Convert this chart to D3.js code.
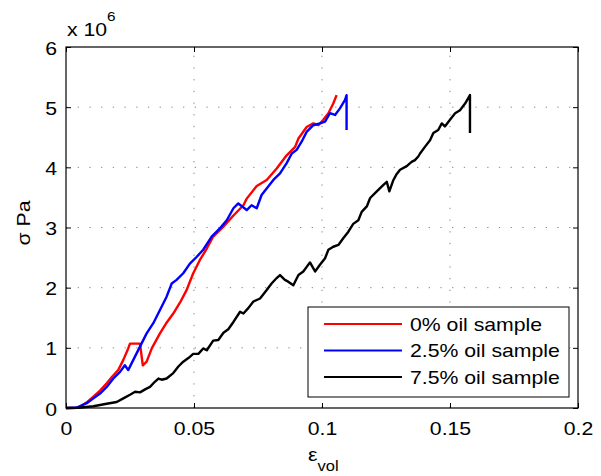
<!DOCTYPE html>
<html><head><meta charset="utf-8">
<script src="https://cdn.jsdelivr.net/npm/d3@7"></script>
<style>body{margin:0;background:#fff}svg{display:block}text{font-family:"Liberation Sans",Arial,Helvetica,sans-serif}</style>
</head><body>
<svg id="c" width="601" height="476"></svg>
<script>
const xTicks = [0, 0.05, 0.1, 0.15, 0.2];
const xTickLabels = ["0", "0.05", "0.1", "0.15", "0.2"];
const yTicks = [0, 1, 2, 3, 4, 5, 6];
const yTickLabels = ["0", "1", "2", "3", "4", "5", "6"];
const seriesNames = ["0% oil sample", "2.5% oil sample", "7.5% oil sample"];
const seriesColors = ["#ff0000", "#0000ff", "#000000"];

// strain (ε_vol), stress (x 10^6 Pa)
const red0 = [[0,0],[0.004,0.005],[0.0055,0.02],[0.008,0.09],[0.0107,0.19],[0.0133,0.29],[0.0159,0.41],[0.018,0.52],[0.0204,0.63],[0.0224,0.80],[0.0243,0.99],[0.025,1.07],[0.0289,1.07],[0.030,0.71],[0.0315,0.77],[0.0335,0.99],[0.0367,1.24],[0.039,1.40],[0.0419,1.57],[0.0445,1.75],[0.0471,1.96],[0.0497,2.24],[0.0523,2.46],[0.0550,2.65],[0.0575,2.85],[0.0614,3.01],[0.0654,3.20],[0.0693,3.37],[0.0706,3.48],[0.0745,3.69],[0.0784,3.79],[0.0823,3.98],[0.0862,4.20],[0.0895,4.34],[0.0908,4.48],[0.0940,4.67],[0.0966,4.73],[0.0986,4.70],[0.1005,4.79],[0.1025,4.90],[0.1044,5.06],[0.1057,5.20]];
const blue25 = [[0,0],[0.004,0.004],[0.0081,0.08],[0.0107,0.16],[0.0133,0.24],[0.0159,0.35],[0.0185,0.49],[0.0211,0.60],[0.0230,0.71],[0.0243,0.63],[0.0263,0.80],[0.0289,1.02],[0.0315,1.24],[0.0341,1.41],[0.0367,1.63],[0.0393,1.85],[0.0413,2.07],[0.0432,2.13],[0.0458,2.24],[0.0484,2.40],[0.0510,2.51],[0.0536,2.63],[0.0569,2.85],[0.0602,2.99],[0.0628,3.12],[0.0654,3.32],[0.0673,3.40],[0.0706,3.29],[0.0725,3.37],[0.0745,3.32],[0.0764,3.54],[0.0790,3.68],[0.0810,3.79],[0.0836,3.90],[0.0862,4.07],[0.0882,4.23],[0.0901,4.29],[0.0921,4.43],[0.0940,4.59],[0.0966,4.70],[0.0992,4.73],[0.1012,4.76],[0.1031,4.90],[0.1051,4.87],[0.1070,4.98],[0.1090,5.12],[0.1096,5.20],[0.1096,4.62]];
const black75 = [[0,0],[0.005,0.005],[0.0107,0.03],[0.0159,0.07],[0.0198,0.10],[0.0224,0.16],[0.025,0.22],[0.027,0.27],[0.0289,0.26],[0.0309,0.31],[0.0328,0.35],[0.0348,0.44],[0.0361,0.49],[0.0374,0.47],[0.0393,0.49],[0.0419,0.58],[0.0439,0.69],[0.0458,0.77],[0.0478,0.83],[0.0497,0.90],[0.0517,0.90],[0.0536,0.99],[0.0550,0.96],[0.0575,1.12],[0.0595,1.13],[0.0615,1.25],[0.0634,1.31],[0.0654,1.43],[0.0680,1.60],[0.0693,1.57],[0.0712,1.66],[0.0732,1.77],[0.0758,1.82],[0.0784,1.96],[0.0803,2.07],[0.0823,2.16],[0.0836,2.21],[0.0855,2.13],[0.0868,2.10],[0.0888,2.04],[0.0908,2.21],[0.0927,2.27],[0.0953,2.42],[0.0973,2.27],[0.0992,2.38],[0.1012,2.49],[0.1025,2.63],[0.1044,2.68],[0.1064,2.71],[0.1083,2.82],[0.1103,2.93],[0.1122,3.06],[0.1142,3.12],[0.1155,3.26],[0.1175,3.35],[0.1188,3.49],[0.1214,3.60],[0.1240,3.71],[0.1253,3.76],[0.1263,3.60],[0.1279,3.79],[0.1292,3.89],[0.1305,3.96],[0.1331,4.02],[0.1350,4.09],[0.1363,4.12],[0.1376,4.18],[0.1383,4.23],[0.1402,4.34],[0.1422,4.45],[0.1435,4.57],[0.1454,4.62],[0.1468,4.73],[0.1480,4.68],[0.1500,4.79],[0.1520,4.90],[0.1539,4.95],[0.1559,5.06],[0.1578,5.20],[0.1578,4.57]];
const allSeries = [red0, blue25, black75];

const L = 66, R = 578, T = 47, B = 408;
const x = d3.scaleLinear().domain([0, 0.2]).range([L, R]);
const y = d3.scaleLinear().domain([0, 6]).range([B, T]);
const svg = d3.select("#c");
const fs = 18, SX = 1.18;

// grid
const g = svg.append("g");
g.selectAll(".vg").data(xTicks.slice(1, -1)).enter().append("line")
  .attr("x1", d => x(d)).attr("x2", d => x(d)).attr("y1", B).attr("y2", T)
  .attr("stroke", "#888").attr("stroke-width", 1).attr("stroke-dasharray", "1.3,10.4");
g.selectAll(".hg").data(yTicks.slice(1, -1)).enter().append("line")
  .attr("y1", d => y(d)).attr("y2", d => y(d)).attr("x1", L).attr("x2", R)
  .attr("stroke", "#888").attr("stroke-width", 1).attr("stroke-dasharray", "1.3,10.4");

// axes with inward ticks
const axB = d3.axisBottom(x).tickValues(xTicks).tickSize(-5).tickFormat((d, i) => xTickLabels[i]);
const axT = d3.axisTop(x).tickValues(xTicks).tickSize(-5).tickFormat("");
const axLf = d3.axisLeft(y).tickValues(yTicks).tickSize(-5).tickFormat((d, i) => yTickLabels[i]);
const axRt = d3.axisRight(y).tickValues(yTicks).tickSize(-5).tickFormat("");
function style(sel) {
  sel.select(".domain").remove();
  sel.selectAll("line").attr("stroke", "#000");
  sel.selectAll("text").attr("font-size", fs).attr("fill", "#000")
    .style("font-family", '"Liberation Sans",Arial,sans-serif');
}
const gB = svg.append("g").attr("transform", `translate(0,${B})`).call(axB).call(style);
gB.selectAll("text").attr("dy", null).attr("y", null)
  .attr("transform", `translate(0,27) scale(${SX},1)`);
svg.append("g").attr("transform", `translate(0,${T})`).call(axT).call(style);
const gL = svg.append("g").attr("transform", `translate(${L},0)`).call(axLf).call(style);
gL.selectAll("text").attr("dy", null).attr("x", null)
  .attr("transform", `translate(-9,7) scale(${SX},1)`);
svg.append("g").attr("transform", `translate(${R},0)`).call(axRt).call(style);

// lines
const line = d3.line().x(d => x(d[0])).y(d => y(d[1]));
svg.append("g").selectAll("path").data(allSeries).enter().append("path")
  .attr("d", line).attr("fill", "none").attr("stroke", (d, i) => seriesColors[i])
  .attr("stroke-width", 2.4).attr("stroke-linejoin", "round");

// frame
svg.append("rect").attr("x", L).attr("y", T).attr("width", R - L).attr("height", B - T)
  .attr("fill", "none").attr("stroke", "#000").attr("stroke-width", 1.2);

// exponent
const ex = svg.append("text").attr("transform", `translate(67,36) scale(${SX},1)`).attr("font-size", fs);
ex.append("tspan").text("x 10");
ex.append("tspan").attr("font-size", 13).attr("dy", -15).text("6");

// labels
const xl = svg.append("text").attr("transform", `translate(308,461) scale(${SX},1)`).attr("font-size", fs);
xl.append("tspan").text("ε");
xl.append("tspan").attr("font-size", 14).attr("dy", 10).text("vol");
svg.append("text").attr("transform", `translate(30,223) rotate(-90) scale(${SX},1)`)
  .attr("text-anchor", "middle").attr("font-size", fs).text("σ  Pa");

// legend
const lg = svg.append("g");
lg.append("rect").attr("x", 308).attr("y", 307).attr("width", 261).attr("height", 90)
  .attr("fill", "#fff").attr("stroke", "#000").attr("stroke-width", 1);
seriesNames.forEach((n, i) => {
  const yy = 324 + i * 26.5;
  lg.append("line").attr("x1", 324).attr("x2", 402).attr("y1", yy).attr("y2", yy)
    .attr("stroke", seriesColors[i]).attr("stroke-width", 2);
  lg.append("text").attr("transform", `translate(410,${yy + 6.5}) scale(${SX},1)`)
    .attr("font-size", fs).text(n);
});
</script>
</body></html>
